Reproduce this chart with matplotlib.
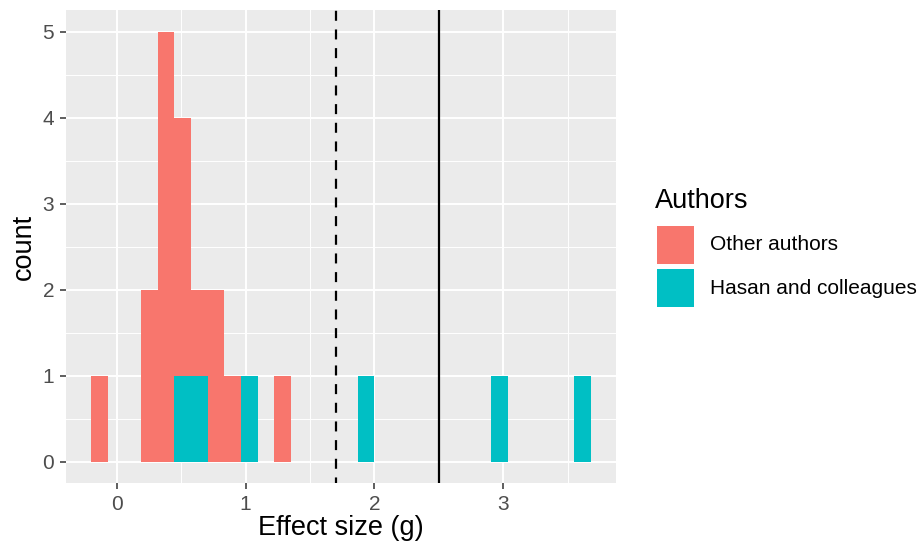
import numpy as np
import matplotlib
matplotlib.use("Agg")
import matplotlib.pyplot as plt
from matplotlib.patches import Rectangle

plt.rcParams["font.family"] = ["Liberation Sans", "DejaVu Sans"]

# histogram bins (ggplot default: 30 bins)
bin_start = -0.199
bin_width = 0.1293
n_bins = 30

other_counts = [1, 0, 0, 2, 5, 3, 1, 2, 1, 0, 0, 1, 0, 0, 0,
                0, 0, 0, 0, 0, 0, 0, 0, 0, 0, 0, 0, 0, 0, 0]
hasan_counts = [0, 0, 0, 0, 0, 1, 1, 0, 0, 1, 0, 0, 0, 0, 0,
                0, 1, 0, 0, 0, 0, 0, 0, 0, 1, 0, 0, 0, 0, 1]

groups = ["Other authors", "Hasan and colleagues"]
colors = ["#F8766D", "#00BFC4"]

dashed_x = 1.7
solid_x = 2.5

x_ticks = [0, 1, 2, 3]
y_ticks = [0, 1, 2, 3, 4, 5]

W, H = 919, 549
fig = plt.figure(figsize=(W / 100, H / 100), dpi=100)
ax = fig.add_axes([66 / W, 1 - 483 / H, 550 / W, 473 / H])
ax.set_facecolor("#EBEBEB")

lefts = bin_start + bin_width * np.arange(n_bins)
other = np.array(other_counts)
hasan = np.array(hasan_counts)

# stacked: Hasan at bottom, Other on top
ax.bar(lefts, hasan, width=bin_width, align="edge", color=colors[1], linewidth=0, zorder=3)
ax.bar(lefts, other, width=bin_width, bottom=hasan, align="edge", color=colors[0], linewidth=0, zorder=3)

ax.axvline(dashed_x, color="black", linestyle=(2, (4.5, 3.9)), linewidth=1.6, zorder=4)
ax.axvline(solid_x, color="black", linewidth=1.6, zorder=4)

ax.set_xticks(x_ticks)
ax.set_yticks(y_ticks)
ax.set_xticks([0.5, 1.5, 2.5, 3.5], minor=True)
ax.set_yticks([0.5, 1.5, 2.5, 3.5, 4.5], minor=True)
ax.set_xlim(-0.393, 3.875)
ax.set_ylim(-0.25, 5.25)
ax.grid(which="major", color="white", linewidth=1.4, zorder=0)
ax.grid(which="minor", color="white", linewidth=0.7, zorder=0)
ax.set_axisbelow(True)
for s in ax.spines.values():
    s.set_visible(False)
ax.tick_params(which="major", length=4.5, width=1.1, color="#333333",
               labelcolor="#4D4D4D", labelsize=15, pad=4)
ax.tick_params(which="minor", length=0)

ax.set_xlabel("Effect size (g)", fontsize=19.5, labelpad=1)
ax.set_ylabel("count", fontsize=19.5, labelpad=4)

# legend drawn in pixel coordinates
lax = fig.add_axes([0, 0, 1, 1])
lax.set_xlim(0, W)
lax.set_ylim(H, 0)
lax.axis("off")
lax.text(655, 201, "Authors", fontsize=19.5, va="center", ha="left")
key_top = [226, 269]
for top, c, lab in zip(key_top, colors, groups):
    lax.add_patch(Rectangle((657, top), 37, 38, facecolor=c, edgecolor="none"))
    lax.text(710, top + 19, lab, fontsize=15, va="center", ha="left")

fig.savefig("out.png", dpi=100)
